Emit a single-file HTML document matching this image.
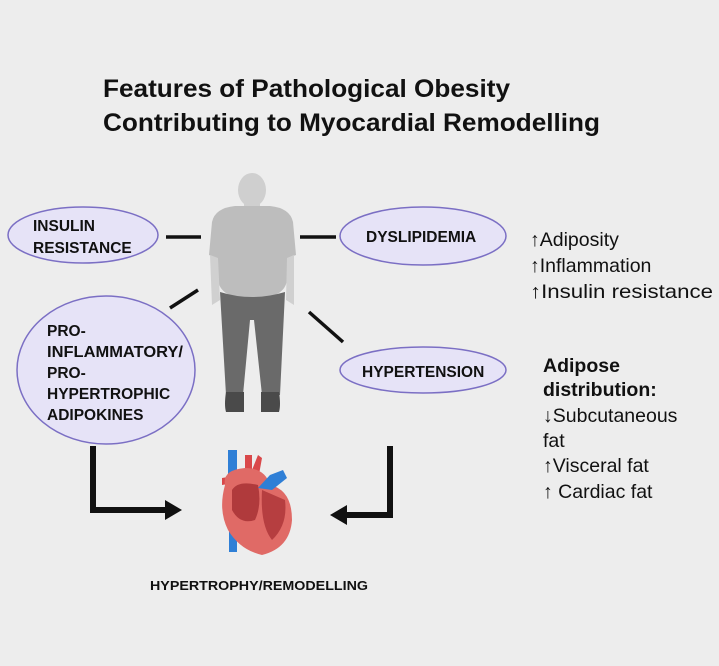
<!DOCTYPE html>
<html><head><meta charset="utf-8"><style>
body{margin:0;background:#fff}
svg{display:block}
text{font-family:"Liberation Sans",sans-serif}
.b{font-weight:bold;fill:#111}
.n{fill:#111;font-size:19.5px}
</style></head><body>
<svg width="719" height="666" viewBox="0 0 719 666">
<rect x="0" y="0" width="719" height="666" fill="#ededed"/>
<text class="b" x="103" y="97" font-size="25" textLength="407" lengthAdjust="spacingAndGlyphs">Features of Pathological Obesity</text>
<text class="b" x="103" y="131" font-size="25" textLength="497" lengthAdjust="spacingAndGlyphs">Contributing to Myocardial Remodelling</text>

<g fill="#e6e3f7" stroke="#7b6fc4" stroke-width="1.5">
<ellipse cx="83" cy="235" rx="75" ry="28"/>
<ellipse cx="423" cy="236" rx="83" ry="29"/>
<ellipse cx="106" cy="370" rx="89" ry="74"/>
<ellipse cx="423" cy="370" rx="83" ry="23"/>
</g>
<g class="b" font-size="15.5">
<text x="33" y="231">INSULIN</text>
<text x="33" y="253">RESISTANCE</text>
<text x="366" y="242">DYSLIPIDEMIA</text>
<text x="362" y="377">HYPERTENSION</text>
<text x="47" y="336">PRO-</text>
<text x="47" y="357" textLength="136" lengthAdjust="spacingAndGlyphs">INFLAMMATORY/</text>
<text x="47" y="378">PRO-</text>
<text x="47" y="399">HYPERTROPHIC</text>
<text x="47" y="420">ADIPOKINES</text>
</g>

<g stroke="#111" stroke-width="3.5">
<line x1="166" y1="237" x2="201" y2="237"/>
<line x1="300" y1="237" x2="336" y2="237"/>
<line x1="170" y1="308" x2="198" y2="290"/>
<line x1="309" y1="312" x2="343" y2="342"/>
</g>

<!-- person -->
<g>
<ellipse cx="252" cy="190" rx="14" ry="17" fill="#cfcfcf"/>
<rect x="244" y="200" width="16" height="12" fill="#cfcfcf"/>
<path d="M212 222 Q215 208 235 206 L270 206 Q290 208 293 222 L296 255 L288 258 L287 280 Q285 298 252 300 Q220 298 218 280 L217 258 L209 255 Z" fill="#bdbdbd"/>
<path d="M210 255 L218 258 L220 300 L212 305 Z M294 255 L287 258 L286 300 L294 305 Z" fill="#d0d0d0"/>
<path d="M220 292 Q252 302 285 292 L280 395 L262 395 L254 320 L250 320 L243 395 L226 395 Z" fill="#6a6a6a"/>
<path d="M226 392 L244 392 L244 412 L226 412 Q224 405 226 392 Z M261 392 L279 392 Q281 405 279 412 L261 412 Z" fill="#4a4a4a"/>
</g>

<!-- heart -->
<g>
<rect x="228" y="450" width="9" height="40" fill="#2f7fd6"/>
<rect x="229" y="510" width="8" height="42" fill="#2f7fd6"/>
<path d="M245 455 L252 455 L252 470 L258 455 L262 458 L258 480 L245 480 Z" fill="#d9484a"/>
<path d="M222 478 L240 475 L240 482 L222 485 Z" fill="#d9484a"/>
<path d="M225 485 Q222 470 245 468 Q265 468 270 485 Q292 490 292 520 Q290 548 262 555 Q240 550 228 530 Q218 510 225 485 Z" fill="#e06a66"/>
<path d="M232 490 Q238 480 258 485 Q262 505 255 520 Q240 525 232 510 Z" fill="#b03a3c"/>
<path d="M262 490 L285 500 Q288 525 272 540 Q260 525 262 490 Z" fill="#b63e40"/>
<path d="M258 488 L270 475 L283 470 L287 478 L272 490 Z" fill="#2f7fd6"/>
</g>

<!-- arrows -->
<g fill="none" stroke="#111" stroke-width="6">
<polyline points="93,446 93,510 168,510"/>
<polyline points="390,446 390,515 344,515"/>
</g>
<polygon points="182,510 165,500 165,520" fill="#111"/>
<polygon points="330,515 347,505 347,525" fill="#111"/>

<text class="b" x="150" y="590" font-size="13" textLength="218" lengthAdjust="spacingAndGlyphs">HYPERTROPHY/REMODELLING</text>

<g class="n">
<text x="530" y="246">↑Adiposity</text>
<text x="530" y="272">↑Inflammation</text>
<text x="530" y="298" textLength="183" lengthAdjust="spacingAndGlyphs">↑Insulin resistance</text>
<text class="b" x="543" y="372">Adipose</text>
<text class="b" x="543" y="396">distribution:</text>
<text x="543" y="422">↓Subcutaneous</text>
<text x="543" y="447">fat</text>
<text x="543" y="472">↑Visceral fat</text>
<text x="543" y="498">↑ Cardiac fat</text>
</g>
</svg>
</body></html>
